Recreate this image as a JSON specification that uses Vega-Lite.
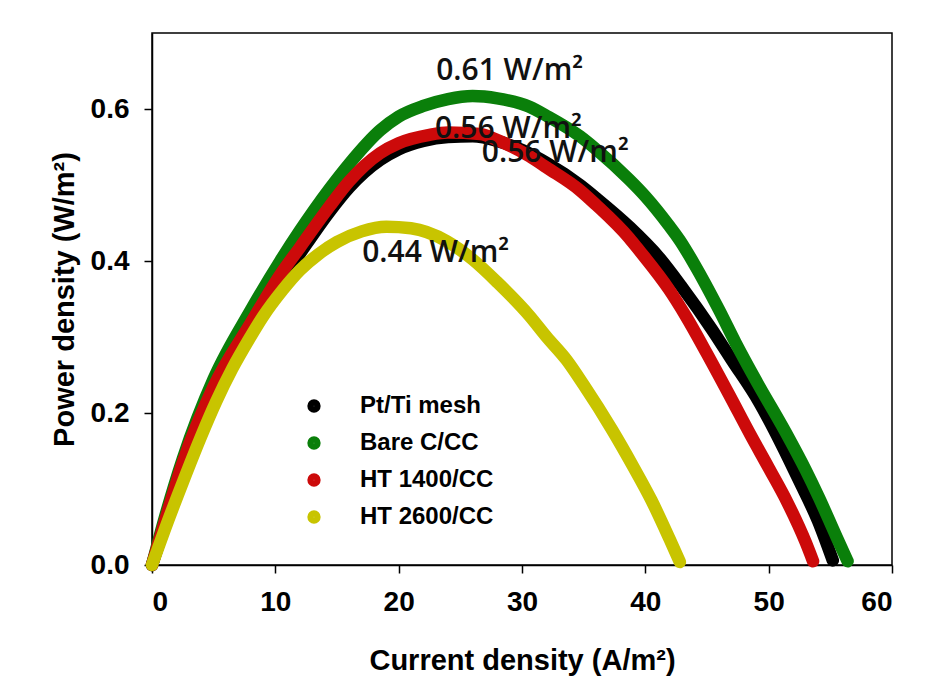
{
  "$schema": "https://vega.github.io/schema/vega-lite/v6.json",
  "autosize": "none",
  "width": 740,
  "height": 532,
  "padding": {"left": 152, "top": 33, "right": 39, "bottom": 121},
  "background": "white",
  "config": {
    "view": {"stroke": "black", "strokeWidth": 1.5},
    "axis": {
      "grid": false,
      "domainColor": "black",
      "domainWidth": 1.5,
      "tickColor": "black",
      "tickWidth": 1.5,
      "tickSize": 8,
      "labelFont": "Liberation Sans",
      "labelFontWeight": "bold",
      "labelFontSize": 28,
      "labelColor": "black",
      "titleFont": "Liberation Sans",
      "titleFontWeight": "bold",
      "titleFontSize": 29,
      "titleColor": "black"
    }
  },
  "datasets": {
    "curves": [
      {"series": "Pt/Ti mesh", "x": 0, "y": 0},
      {"series": "Pt/Ti mesh", "x": 1, "y": 0.05},
      {"series": "Pt/Ti mesh", "x": 2.5, "y": 0.125},
      {"series": "Pt/Ti mesh", "x": 5, "y": 0.23},
      {"series": "Pt/Ti mesh", "x": 8, "y": 0.31},
      {"series": "Pt/Ti mesh", "x": 10.4, "y": 0.372},
      {"series": "Pt/Ti mesh", "x": 12, "y": 0.41},
      {"series": "Pt/Ti mesh", "x": 14.4, "y": 0.465},
      {"series": "Pt/Ti mesh", "x": 16, "y": 0.497},
      {"series": "Pt/Ti mesh", "x": 18.5, "y": 0.533},
      {"series": "Pt/Ti mesh", "x": 20, "y": 0.547},
      {"series": "Pt/Ti mesh", "x": 22, "y": 0.558},
      {"series": "Pt/Ti mesh", "x": 24, "y": 0.563},
      {"series": "Pt/Ti mesh", "x": 26, "y": 0.564},
      {"series": "Pt/Ti mesh", "x": 28, "y": 0.558},
      {"series": "Pt/Ti mesh", "x": 30, "y": 0.546},
      {"series": "Pt/Ti mesh", "x": 32, "y": 0.529},
      {"series": "Pt/Ti mesh", "x": 34.7, "y": 0.5},
      {"series": "Pt/Ti mesh", "x": 36, "y": 0.483},
      {"series": "Pt/Ti mesh", "x": 38.7, "y": 0.445},
      {"series": "Pt/Ti mesh", "x": 41.1, "y": 0.405},
      {"series": "Pt/Ti mesh", "x": 43, "y": 0.365},
      {"series": "Pt/Ti mesh", "x": 45.4, "y": 0.31},
      {"series": "Pt/Ti mesh", "x": 47, "y": 0.27},
      {"series": "Pt/Ti mesh", "x": 49.2, "y": 0.215},
      {"series": "Pt/Ti mesh", "x": 51, "y": 0.16},
      {"series": "Pt/Ti mesh", "x": 52.5, "y": 0.11},
      {"series": "Pt/Ti mesh", "x": 54, "y": 0.058},
      {"series": "Pt/Ti mesh", "x": 55.2, "y": 0.006},

      {"series": "Bare C/CC", "x": 0, "y": 0},
      {"series": "Bare C/CC", "x": 1, "y": 0.06},
      {"series": "Bare C/CC", "x": 2.5, "y": 0.14},
      {"series": "Bare C/CC", "x": 5, "y": 0.245},
      {"series": "Bare C/CC", "x": 8, "y": 0.335},
      {"series": "Bare C/CC", "x": 10.4, "y": 0.4},
      {"series": "Bare C/CC", "x": 12, "y": 0.44},
      {"series": "Bare C/CC", "x": 14.4, "y": 0.495},
      {"series": "Bare C/CC", "x": 16, "y": 0.528},
      {"series": "Bare C/CC", "x": 18.5, "y": 0.572},
      {"series": "Bare C/CC", "x": 20, "y": 0.59},
      {"series": "Bare C/CC", "x": 22, "y": 0.604},
      {"series": "Bare C/CC", "x": 24, "y": 0.613},
      {"series": "Bare C/CC", "x": 26, "y": 0.617},
      {"series": "Bare C/CC", "x": 28, "y": 0.614},
      {"series": "Bare C/CC", "x": 30.6, "y": 0.603},
      {"series": "Bare C/CC", "x": 32, "y": 0.591},
      {"series": "Bare C/CC", "x": 34.7, "y": 0.564},
      {"series": "Bare C/CC", "x": 36, "y": 0.547},
      {"series": "Bare C/CC", "x": 38.7, "y": 0.507},
      {"series": "Bare C/CC", "x": 40, "y": 0.485},
      {"series": "Bare C/CC", "x": 41.9, "y": 0.447},
      {"series": "Bare C/CC", "x": 42.8, "y": 0.427},
      {"series": "Bare C/CC", "x": 44, "y": 0.395},
      {"series": "Bare C/CC", "x": 46, "y": 0.335},
      {"series": "Bare C/CC", "x": 47.3, "y": 0.293},
      {"series": "Bare C/CC", "x": 49, "y": 0.242},
      {"series": "Bare C/CC", "x": 51.4, "y": 0.174},
      {"series": "Bare C/CC", "x": 53, "y": 0.125},
      {"series": "Bare C/CC", "x": 54.1, "y": 0.088},
      {"series": "Bare C/CC", "x": 55.5, "y": 0.037},
      {"series": "Bare C/CC", "x": 56.4, "y": 0.005},

      {"series": "HT 1400/CC", "x": 0, "y": 0},
      {"series": "HT 1400/CC", "x": 1, "y": 0.055},
      {"series": "HT 1400/CC", "x": 2.5, "y": 0.135},
      {"series": "HT 1400/CC", "x": 5, "y": 0.235},
      {"series": "HT 1400/CC", "x": 8, "y": 0.318},
      {"series": "HT 1400/CC", "x": 10.4, "y": 0.382},
      {"series": "HT 1400/CC", "x": 12, "y": 0.418},
      {"series": "HT 1400/CC", "x": 14.4, "y": 0.472},
      {"series": "HT 1400/CC", "x": 16, "y": 0.505},
      {"series": "HT 1400/CC", "x": 18.5, "y": 0.542},
      {"series": "HT 1400/CC", "x": 20, "y": 0.555},
      {"series": "HT 1400/CC", "x": 22.5, "y": 0.566},
      {"series": "HT 1400/CC", "x": 24, "y": 0.569},
      {"series": "HT 1400/CC", "x": 26.6, "y": 0.567},
      {"series": "HT 1400/CC", "x": 28, "y": 0.559},
      {"series": "HT 1400/CC", "x": 30.6, "y": 0.538},
      {"series": "HT 1400/CC", "x": 32, "y": 0.523},
      {"series": "HT 1400/CC", "x": 34.7, "y": 0.493},
      {"series": "HT 1400/CC", "x": 36, "y": 0.474},
      {"series": "HT 1400/CC", "x": 38.7, "y": 0.43},
      {"series": "HT 1400/CC", "x": 39.5, "y": 0.414},
      {"series": "HT 1400/CC", "x": 41.9, "y": 0.363},
      {"series": "HT 1400/CC", "x": 43.3, "y": 0.327},
      {"series": "HT 1400/CC", "x": 45, "y": 0.278},
      {"series": "HT 1400/CC", "x": 46.8, "y": 0.224},
      {"series": "HT 1400/CC", "x": 48.5, "y": 0.172},
      {"series": "HT 1400/CC", "x": 50, "y": 0.128},
      {"series": "HT 1400/CC", "x": 51.5, "y": 0.083},
      {"series": "HT 1400/CC", "x": 53, "y": 0.03},
      {"series": "HT 1400/CC", "x": 53.6, "y": 0.005},

      {"series": "HT 2600/CC", "x": 0, "y": 0},
      {"series": "HT 2600/CC", "x": 1, "y": 0.045},
      {"series": "HT 2600/CC", "x": 2.5, "y": 0.109},
      {"series": "HT 2600/CC", "x": 4, "y": 0.17},
      {"series": "HT 2600/CC", "x": 5.2, "y": 0.215},
      {"series": "HT 2600/CC", "x": 6.5, "y": 0.258},
      {"series": "HT 2600/CC", "x": 7.9, "y": 0.298},
      {"series": "HT 2600/CC", "x": 9, "y": 0.327},
      {"series": "HT 2600/CC", "x": 10.6, "y": 0.362},
      {"series": "HT 2600/CC", "x": 12, "y": 0.388},
      {"series": "HT 2600/CC", "x": 13.5, "y": 0.409},
      {"series": "HT 2600/CC", "x": 15, "y": 0.425},
      {"series": "HT 2600/CC", "x": 17, "y": 0.439},
      {"series": "HT 2600/CC", "x": 19, "y": 0.445},
      {"series": "HT 2600/CC", "x": 21, "y": 0.443},
      {"series": "HT 2600/CC", "x": 23.9, "y": 0.426},
      {"series": "HT 2600/CC", "x": 26, "y": 0.402},
      {"series": "HT 2600/CC", "x": 28, "y": 0.372},
      {"series": "HT 2600/CC", "x": 30.6, "y": 0.328},
      {"series": "HT 2600/CC", "x": 32, "y": 0.3},
      {"series": "HT 2600/CC", "x": 33.6, "y": 0.27},
      {"series": "HT 2600/CC", "x": 35, "y": 0.237},
      {"series": "HT 2600/CC", "x": 37.3, "y": 0.178},
      {"series": "HT 2600/CC", "x": 39, "y": 0.13},
      {"series": "HT 2600/CC", "x": 40.5, "y": 0.085},
      {"series": "HT 2600/CC", "x": 42, "y": 0.033},
      {"series": "HT 2600/CC", "x": 42.8, "y": 0.004}
    ],
    "notes": [
      {"label": "0.61 W/m²", "x": 29.0, "y": 0.65},
      {"label": "0.56 W/m²", "x": 28.9, "y": 0.574},
      {"label": "0.56 W/m²", "x": 32.7, "y": 0.542},
      {"label": "0.44 W/m²", "x": 23.0, "y": 0.41}
    ]
  },
  "layer": [
    {
      "data": {"name": "curves"},
      "mark": {"type": "line", "strokeWidth": 12.5, "strokeCap": "round", "strokeJoin": "round", "interpolate": "monotone", "clip": false},
      "encoding": {
        "x": {
          "field": "x", "type": "quantitative",
          "scale": {"domain": [0, 60], "nice": false},
          "axis": {"values": [0, 10, 20, 30, 40, 50, 60], "title": "Current density (A/m²)", "labelPadding": 15, "titlePadding": 30}
        },
        "y": {
          "field": "y", "type": "quantitative",
          "scale": {"domain": [0, 0.7], "nice": false},
          "axis": {"values": [0, 0.2, 0.4, 0.6], "format": ".1f", "title": "Power density (W/m²)", "titleFontSize": 29, "labelPadding": 15, "titlePadding": 11}
        },
        "color": {
          "field": "series", "type": "nominal",
          "sort": ["Pt/Ti mesh", "Bare C/CC", "HT 1400/CC", "HT 2600/CC"],
          "scale": {"domain": ["Pt/Ti mesh", "Bare C/CC", "HT 1400/CC", "HT 2600/CC"], "range": ["#000000", "#0a7f0a", "#cc0a0a", "#c8c400"]},
          "legend": {
            "title": null,
            "orient": "none",
            "legendX": 150,
            "legendY": 361,
            "padding": 0,
            "symbolType": "circle",
            "symbolSize": 40,
            "symbolStrokeWidth": 7,
            "labelFont": "Liberation Sans",
            "labelFontWeight": "bold",
            "labelFontSize": 24,
            "labelColor": "black",
            "labelOffset": 34,
            "rowPadding": 1
          }
        },
        "order": {"field": "x", "type": "quantitative"}
      }
    },
    {
      "data": {"name": "notes"},
      "mark": {"type": "text", "font": "Open Sans", "fontWeight": 600, "fontSize": 30, "color": "#111111", "align": "center", "baseline": "middle"},
      "encoding": {
        "x": {"field": "x", "type": "quantitative"},
        "y": {"field": "y", "type": "quantitative"},
        "text": {"field": "label"}
      }
    }
  ]
}
